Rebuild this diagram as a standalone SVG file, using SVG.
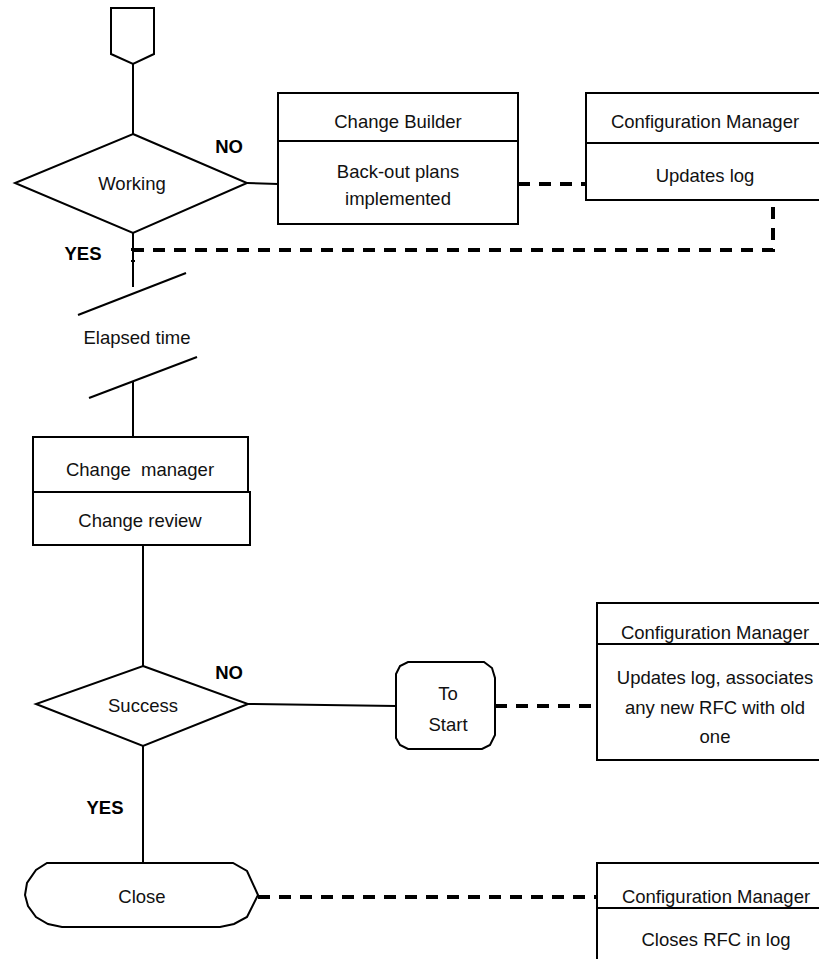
<svg xmlns="http://www.w3.org/2000/svg" width="819" height="959" viewBox="0 0 819 959">
<style>
  .shape { fill: #fff; stroke: #000; stroke-width: 2; }
  .line { fill: none; stroke: #000; stroke-width: 2; }
  .dash { fill: none; stroke: #000; stroke-width: 4; stroke-dasharray: 12 9; }
  text { font-family: "Liberation Sans", Arial, sans-serif; font-size: 18.5px; fill: #111; text-anchor: middle; dominant-baseline: central; white-space: pre; }
  .bold { font-weight: bold; fill: #000; }
</style>
<rect width="819" height="959" fill="#fff"/>
<g id="connectors">
  <line class="line" x1="133" y1="64" x2="133" y2="134"/>
  <line class="line" x1="247" y1="183" x2="278" y2="184"/>
  <line class="line" x1="133" y1="233" x2="133" y2="287"/>
  <line class="line" x1="133" y1="382" x2="133" y2="437"/>
  <line class="line" x1="143" y1="545" x2="143" y2="666"/>
  <line class="line" x1="248" y1="704" x2="396" y2="706"/>
  <line class="line" x1="143" y1="746" x2="143" y2="863"/>
  <polyline class="dash" points="518,184 586,184"/>
  <polyline class="dash" points="773,207 773,250 133,250 133,262"/>
  <polyline class="dash" points="495,706 597,706"/>
  <polyline class="dash" points="258,897 597,897"/>
</g>
<g id="start-connector">
  <polygon class="shape" points="111,8 154,8 154,54 133,64 111,54"/>
</g>
<g id="working">
  <polygon class="shape" points="133,134 247,183 133,233 15,183"/>
  <text x="132" y="183">Working</text>
  <text class="bold" x="229" y="146">NO</text>
  <text class="bold" x="83" y="253">YES</text>
</g>
<g id="change-builder">
  <rect class="shape" x="278" y="93" width="240" height="131"/>
  <line class="line" x1="278" y1="141" x2="518" y2="141"/>
  <text x="398" y="121">Change Builder</text>
  <text x="398" y="171">Back-out plans</text>
  <text x="398" y="198">implemented</text>
</g>
<g id="config-manager-1">
  <rect class="shape" x="586" y="93" width="240" height="107"/>
  <line class="line" x1="586" y1="143" x2="826" y2="143"/>
  <text x="705" y="121">Configuration Manager</text>
  <text x="705" y="175">Updates log</text>
</g>
<g id="elapsed-time">
  <line class="line" x1="78" y1="315" x2="186" y2="273"/>
  <text x="137" y="337">Elapsed time</text>
  <line class="line" x1="89" y1="398" x2="197" y2="357"/>
</g>
<g id="change-manager">
  <rect class="shape" x="33" y="437" width="215" height="55"/>
  <rect class="shape" x="33" y="492" width="217" height="53"/>
  <text x="140" y="469">Change  manager</text>
  <text x="140" y="520">Change review</text>
</g>
<g id="success">
  <polygon class="shape" points="143,666 248,704 143,746 36,704"/>
  <text x="143" y="705">Success</text>
  <text class="bold" x="229" y="672">NO</text>
  <text class="bold" x="105" y="807">YES</text>
</g>
<g id="to-start">
  <polygon class="shape" points="408,662 484,662 492,668 495,678 495,735 490,745 482,749 408,749 400,745 396,738 396,674 400,666"/>
  <text x="448" y="693">To</text>
  <text x="448" y="724">Start</text>
</g>
<g id="config-manager-2">
  <rect class="shape" x="597" y="603" width="240" height="157"/>
  <line class="line" x1="597" y1="644" x2="837" y2="644"/>
  <text x="715" y="632">Configuration Manager</text>
  <text x="715" y="677">Updates log, associates</text>
  <text x="715" y="707">any new RFC with old</text>
  <text x="715" y="736">one</text>
</g>
<g id="close">
  <polygon class="shape" points="47,863 233,863 247,871 258,895 247,917 234,924 220,927 62,927 48,924 36,917 28,906 25,895 27,883 36,870"/>
  <text x="142" y="896">Close</text>
</g>
<g id="config-manager-3">
  <rect class="shape" x="597" y="863" width="240" height="110"/>
  <line class="line" x1="597" y1="908" x2="837" y2="908"/>
  <text x="716" y="896">Configuration Manager</text>
  <text x="716" y="939">Closes RFC in log</text>
</g>
</svg>
